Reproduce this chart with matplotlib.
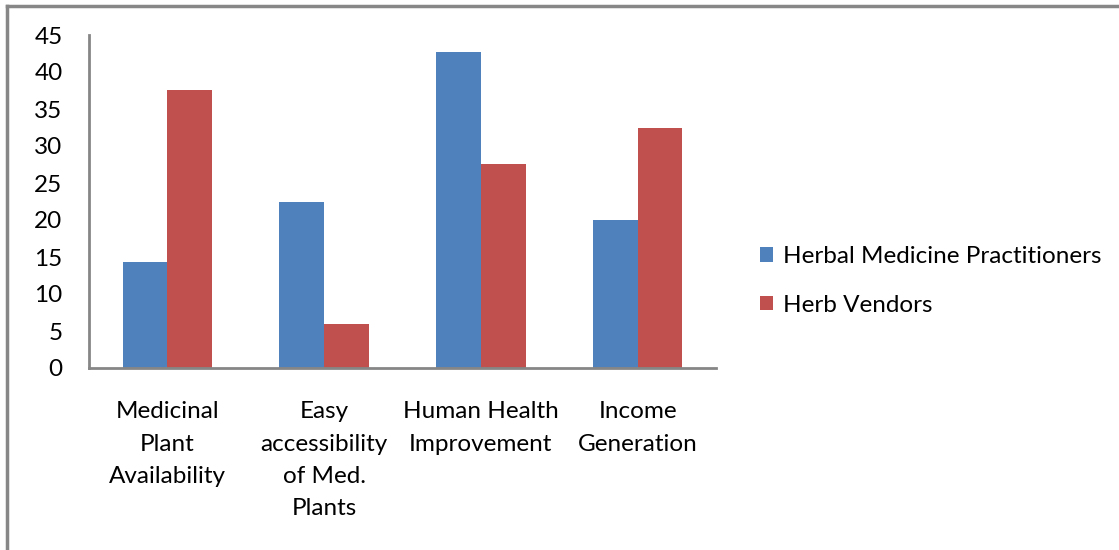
import matplotlib
matplotlib.use("Agg")
import matplotlib.pyplot as plt
import numpy as np

categories = ["Medicinal\nPlant\nAvailability", "Easy\naccessibility\nof Med.\nPlants",
              "Human Health\nImprovement", "Income\nGeneration"]
series_names = ["Herbal Medicine Practitioners", "Herb Vendors"]
practitioners = [14.3, 22.4, 42.7, 20.0]
vendors = [37.6, 5.9, 27.6, 32.4]
yticks = [0, 5, 10, 15, 20, 25, 30, 35, 40, 45]

plt.rcParams['font.family'] = ['Lato', 'DejaVu Sans']
FS = 17.5

fig = plt.figure(figsize=(11.19, 5.5), dpi=100)
ax = fig.add_axes([89/1119, 1-368/550, (716-89)/1119, (368-35)/550])

x = np.arange(len(categories))
w = 1/3.5
ax.bar(x - w/2, practitioners, w, color="#4F81BD", label=series_names[0])
ax.bar(x + w/2, vendors, w, color="#C0504D", label=series_names[1])

ax.set_xlim(-0.5, len(categories) - 0.5)
ax.set_ylim(0, 45)
ax.set_yticks(yticks)
ax.set_xticks(x)
ax.set_xticklabels(categories, linespacing=1.66)
ax.tick_params(axis='both', length=0, labelsize=FS, colors='black')
ax.tick_params(axis='y', pad=19)
ax.tick_params(axis='x', pad=24)
for s in ['top', 'right']:
    ax.spines[s].set_visible(False)
for s in ['left', 'bottom']:
    ax.spines[s].set_color('#868686')
    ax.spines[s].set_linewidth(2)

leg = fig.legend(loc='center left', bbox_to_anchor=(738/1119, 1-281/550), frameon=False,
                 fontsize=FS, handlelength=0.55, handleheight=0.55, handletextpad=0.4,
                 labelspacing=1.12)

# outer chart frame
fig.add_artist(plt.Line2D([7/1119, 7/1119], [0, 1-6/550], transform=fig.transFigure,
                          color='#878787', lw=2.5))
fig.add_artist(plt.Line2D([7/1119, 1], [1-6/550, 1-6/550], transform=fig.transFigure,
                          color='#878787', lw=2.5))

fig.savefig("out.png", dpi=100)
